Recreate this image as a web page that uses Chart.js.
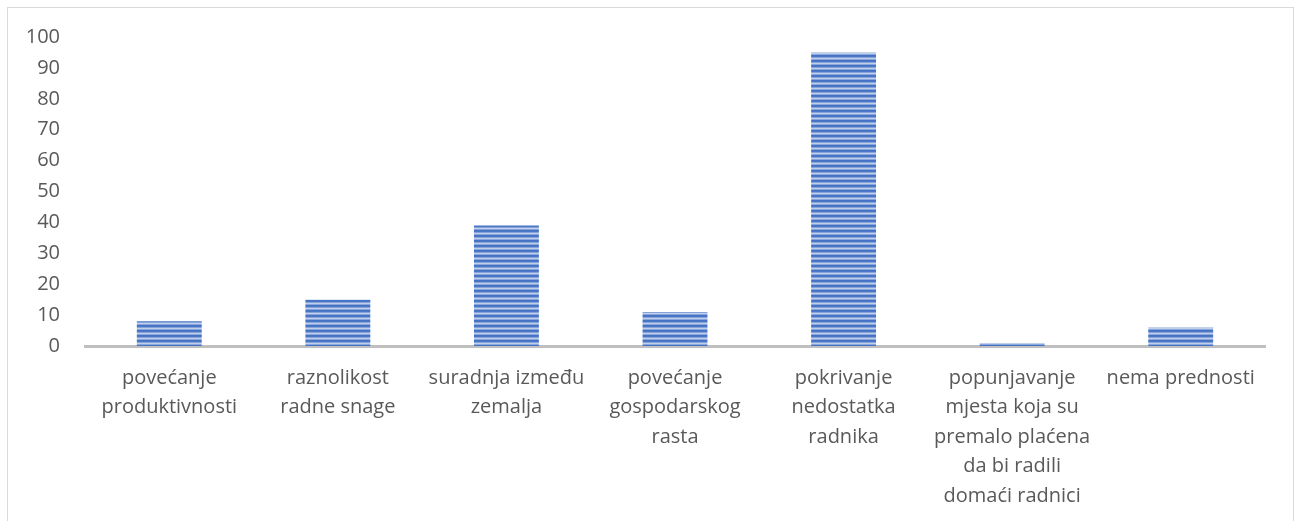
<!DOCTYPE html>
<html lang="hr">
<head>
<meta charset="UTF-8">
<title>Prednosti</title>
<script src="https://cdn.jsdelivr.net/npm/chart.js"></script>
<style>
    html, body {
        margin: 0;
        padding: 0;
        background: #ffffff;
    }
    .frame {
        position: absolute;
        left: 7px;
        top: 7px;
        width: 1287px;
        height: 530px;
        border: 1px solid #d9d9d9;
        box-sizing: border-box;
    }
    .wrap {
        position: absolute;
        left: 0;
        top: 0;
        width: 1300px;
        height: 521px;
    }
</style>
</head>
<body>
<div class="frame"></div>
<div class="wrap"><canvas id="chart" width="1300" height="521"></canvas></div>
<script>
// podaci procitani sa slike
const categories = [
    ["povećanje", "produktivnosti"],
    ["raznolikost", "radne snage"],
    ["suradnja između", "zemalja"],
    ["povećanje", "gospodarskog", "rasta"],
    ["pokrivanje", "nedostatka", "radnika"],
    ["popunjavanje", "mjesta koja su", "premalo plaćena", "da bi radili", "domaći radnici"],
    ["nema prednosti"]
];
const values = [8, 15, 39, 11, 95, 1, 6];
const yTicks = [0, 10, 20, 30, 40, 50, 60, 70, 80, 90, 100];

// prugasti uzorak za stupce
function stripes() {
    const c = document.createElement("canvas");
    c.width = 4;
    c.height = 5;
    const g = c.getContext("2d");
    const rows = ["#4472c4", "#4a77c6", "#86a2d8", "#c0d0ec", "#8aa6da"];
    rows.forEach((col, i) => {
        g.fillStyle = col;
        g.fillRect(0, i, 4, 1);
    });
    return g.createPattern(c, "repeat");
}

const ctx = document.getElementById("chart").getContext("2d");
new Chart(ctx, {
    type: "bar",
    data: {
        labels: categories,
        datasets: [{
            data: values,
            backgroundColor: stripes(),
            borderWidth: 0,
            categoryPercentage: 1,
            barPercentage: 0.385
        }]
    },
    options: {
        responsive: false,
        animation: false,
        layout: { padding: { top: 34, right: 35, bottom: 0, left: 0 } },
        plugins: {
            legend: { display: false },
            tooltip: { enabled: false }
        },
        scales: {
            x: {
                grid: { display: false, drawTicks: false },
                border: { display: true, color: "#bfbfbf", width: 3 },
                ticks: {
                    color: "#595959",
                    padding: 17,
                    maxRotation: 0,
                    autoSkip: false,
                    font: { family: "'Open Sans'", size: 20, lineHeight: 1.48 }
                },
                afterFit: s => { s.height = 175; }
            },
            y: {
                min: 0,
                max: 100,
                afterBuildTicks: s => { s.ticks = yTicks.map(v => ({ value: v })); },
                grid: { display: false, drawTicks: false },
                border: { display: false },
                ticks: {
                    color: "#595959",
                    padding: 25,
                    font: { family: "'Open Sans'", size: 20 }
                },
                afterFit: s => { s.width = 85; }
            }
        }
    }
});
</script>
</body>
</html>
